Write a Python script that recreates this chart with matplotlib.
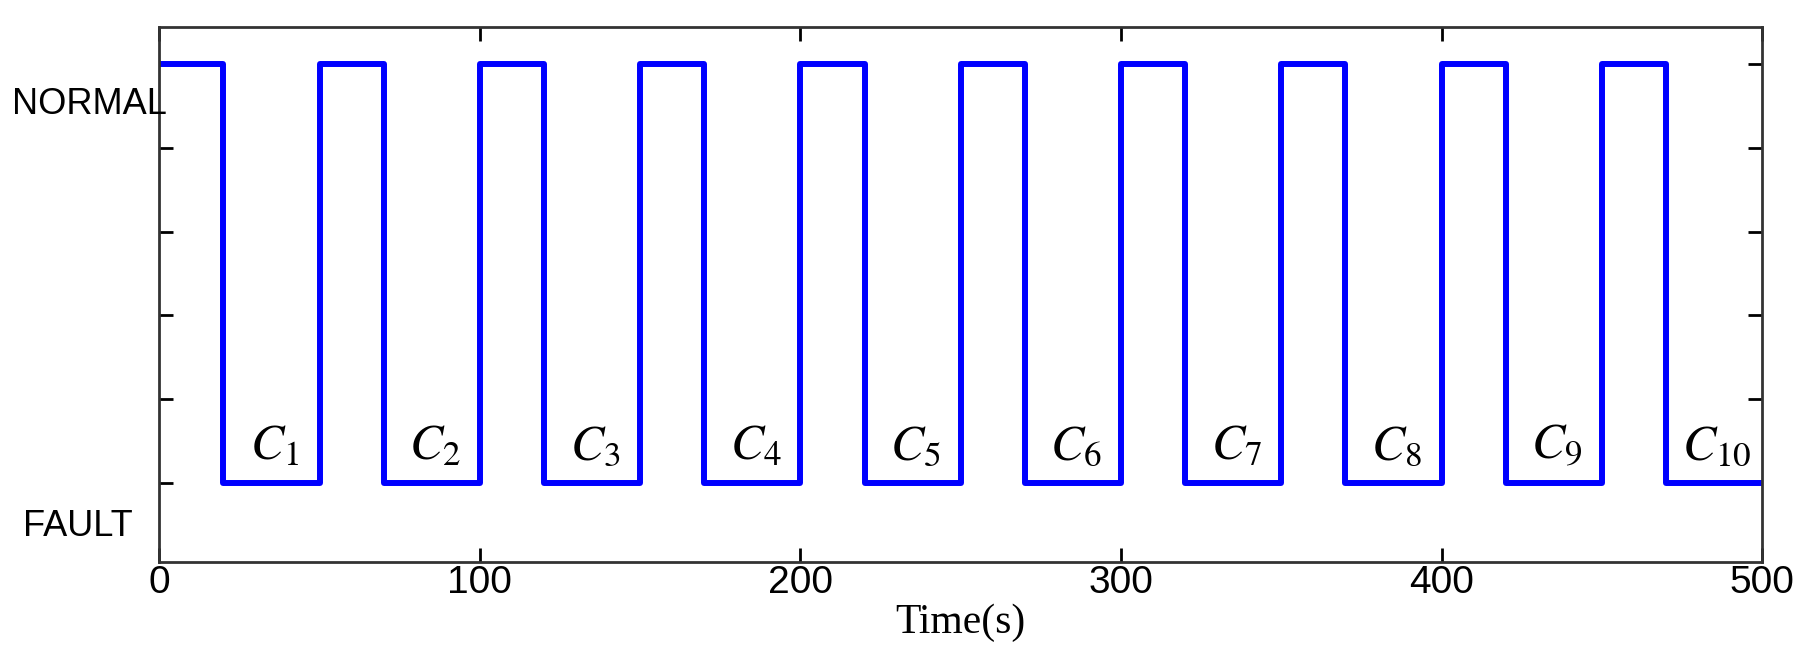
import numpy as np
import matplotlib.pyplot as plt

# switching times (s) and state after each switch (1 = NORMAL, 0 = FAULT)
switch_times = [0, 20, 50, 70, 100, 120, 150, 170, 200, 220, 250, 270, 300, 320, 350, 370, 400, 420, 450, 470, 500]
states = [1, 0, 1, 0, 1, 0, 1, 0, 1, 0, 1, 0, 1, 0, 1, 0, 1, 0, 1, 0, 0]
cycle_labels = ['1', '2', '3', '4', '5', '6', '7', '8', '9', '10']
label_x = [36, 86, 136, 186, 236, 286, 336, 386, 436, 486]

plt.rcParams['mathtext.fontset'] = 'stix'

fig = plt.figure(figsize=(18.11, 6.71), dpi=100)
ax = fig.add_axes([0.088, 0.162, 0.885, 0.798])

ax.step(switch_times, states, where='post', color='#0000ff', lw=4.3)

for lx, lab in zip(label_x, cycle_labels):
    ax.text(lx, 0.09, r'$\mathit{C}_{%s}$' % lab, fontsize=36, ha='center', va='center')

ax.set_xlim(0, 500)
ax.set_ylim(-0.19, 1.09)
ax.set_xticks([0, 100, 200, 300, 400, 500])
ax.set_yticks([0, 0.2, 0.4, 0.6, 0.8, 1.0])
ax.set_yticklabels([])
ax.tick_params(direction='in', length=10, width=2, top=True, right=True,
               labelsize=28, pad=2)
for lab in ax.get_xticklabels():
    lab.set_family('Liberation Sans')
for s in ax.spines.values():
    s.set_linewidth(2)
    s.set_color('#333333')

ax.set_xlabel('Time(s)', family='Liberation Serif', fontsize=30, labelpad=2)

fig.text(12 / 1811, 1 - 104 / 671, 'NORMAL', family='Liberation Sans', fontsize=26, va='center')
fig.text(23 / 1811, 1 - 527 / 671, 'FAULT', family='Liberation Sans', fontsize=26, va='center')

fig.savefig('out.png', dpi=100)
